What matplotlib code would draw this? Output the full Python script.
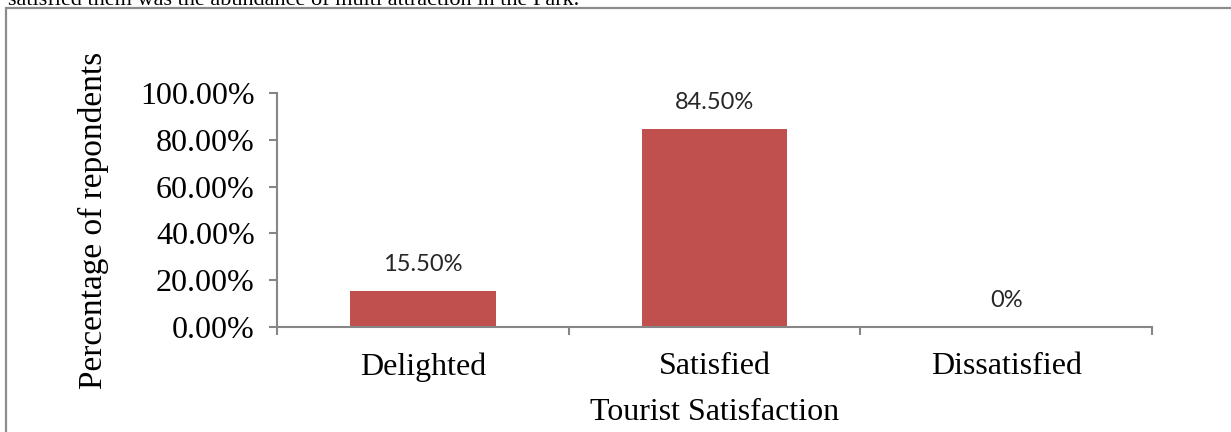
import matplotlib
matplotlib.use("Agg")
import matplotlib.pyplot as plt
from matplotlib.patches import Rectangle

# Dados do gráfico
categorias = ["Delighted", "Satisfied", "Dissatisfied"]
valores = [0.155, 0.845, 0.0]
rotulos = ["15.50%", "84.50%", "0%"]
ticks_y = [0.0, 0.2, 0.4, 0.6, 0.8, 1.0]

W, H = 1231, 432
cor_barra = "#C0504D"
cor_eixo = "#868686"
serif = ["Liberation Serif", "DejaVu Serif"]

fig = plt.figure(figsize=(W / 100, H / 100), dpi=100)

# texto cortado do topo
fig.text(8 / W, 1 - 5 / H, "satisfied them was the abundance of multi attraction in the Park.",
         family=serif, fontsize=16, va="baseline", ha="left")

# moldura externa (lado direito e base ficam fora da imagem)
fig.patches.append(Rectangle((6 / W, -0.1), 1.0, 1.1 - 8 / H,
                             transform=fig.transFigure, fill=False,
                             edgecolor="#8c8c8c", linewidth=1.6))

ax = fig.add_axes([277 / W, 105 / H, (1152 - 277) / W, 234 / H])
x = list(range(len(categorias)))
ax.bar(x, valores, width=0.5, color=cor_barra)

for xi, v, r in zip(x, valores, rotulos):
    ax.annotate(r, (xi, v), xytext=(0, 19), textcoords="offset points",
                ha="center", va="center", fontsize=17, family=["Lato", "DejaVu Sans"],
                color="#262626")

ax.set_xlim(-0.5, 2.5)
ax.set_ylim(0, 1)
ax.set_yticks(ticks_y)
ax.set_yticklabels([f"{t * 100:.2f}%" for t in ticks_y], family=serif, fontsize=23)
ax.set_xticks(x)
ax.set_xticklabels(categorias, family=serif, fontsize=23)
ax.set_xticks([-0.5, 0.5, 1.5, 2.5], minor=True)
ax.tick_params(axis="x", which="major", length=0, pad=18)
ax.tick_params(axis="x", which="minor", length=6, width=1.5, color=cor_eixo, direction="out")
ax.tick_params(axis="y", length=6, width=1.5, color=cor_eixo, pad=10)

for s in ["top", "right"]:
    ax.spines[s].set_visible(False)
for s in ["left", "bottom"]:
    ax.spines[s].set_color(cor_eixo)
    ax.spines[s].set_linewidth(1.5)

ax.set_xlabel("Tourist Satisfaction", family=serif, fontsize=23, labelpad=12)
ax.set_ylabel("Percentage of repondents", family=serif, fontsize=24, va="center")
ax.yaxis.set_label_coords(-0.21, 0.457)

fig.savefig("out.png", dpi=100)
